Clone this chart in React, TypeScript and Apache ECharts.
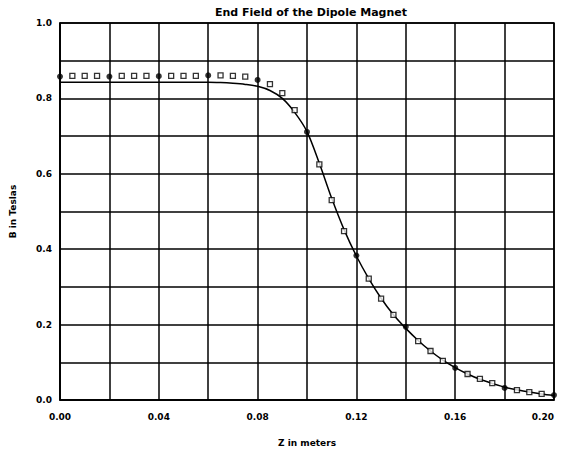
import React, { useEffect, useRef } from "react";
import * as echarts from "echarts";

const titleText = "End Field of the Dipole Magnet";
const xName = "Z in meters";
const yName = "B in Teslas";

// measured points at multiples of 0.02 (filled dots)
const zFilled = [0, 0.02, 0.04, 0.06, 0.08, 0.1, 0.12, 0.14, 0.16, 0.18, 0.2];
const bFilled = [0.858, 0.858, 0.859, 0.861, 0.849, 0.711, 0.383, 0.194, 0.085, 0.032, 0.013];

// measured points in between (open squares)
const zOpen = [
  0.005, 0.01, 0.015, 0.025, 0.03, 0.035, 0.045, 0.05, 0.055, 0.065, 0.07, 0.075,
  0.085, 0.09, 0.095, 0.105, 0.11, 0.115, 0.125, 0.13, 0.135, 0.145, 0.15, 0.155,
  0.165, 0.17, 0.175, 0.185, 0.19, 0.195,
];
const bOpen = [
  0.86, 0.86, 0.86, 0.86, 0.86, 0.86, 0.86, 0.86, 0.86, 0.861, 0.86, 0.858,
  0.838, 0.814, 0.769, 0.625, 0.53, 0.448, 0.322, 0.269, 0.226, 0.156, 0.13, 0.104,
  0.069, 0.056, 0.045, 0.026, 0.021, 0.016,
];

// calculated curve
const zCurve = [
  0, 0.01, 0.02, 0.03, 0.04, 0.05, 0.06, 0.065, 0.07, 0.075, 0.08, 0.085, 0.09, 0.095,
  0.1, 0.105, 0.11, 0.115, 0.12, 0.125, 0.13, 0.135, 0.14, 0.145, 0.15, 0.155, 0.16,
  0.165, 0.17, 0.175, 0.18, 0.185, 0.19, 0.195, 0.2,
];
const bCurve = [
  0.843, 0.843, 0.843, 0.843, 0.843, 0.843, 0.843, 0.842, 0.84, 0.837, 0.832, 0.821,
  0.8, 0.763, 0.712, 0.628, 0.535, 0.452, 0.382, 0.322, 0.27, 0.226, 0.19, 0.158, 0.13,
  0.106, 0.086, 0.069, 0.055, 0.044, 0.034, 0.027, 0.021, 0.016, 0.012,
];

const FONT = "DejaVu Sans";

export default function App() {
  const ref = useRef<HTMLDivElement>(null);
  useEffect(() => {
    if (!ref.current) return;
    const chart = echarts.init(ref.current, undefined, { renderer: "svg" });
    const lineStyle = { color: "#000", width: 1.5 };
    chart.setOption({
      animation: false,
      backgroundColor: "#fff",
      title: {
        text: titleText,
        left: 306,
        textAlign: "center",
        top: 2,
        textStyle: { fontFamily: FONT, fontSize: 11, fontWeight: "bold", color: "#000" },
      },
      grid: {
        left: 58,
        right: 8,
        top: 23,
        bottom: 52,
        show: true,
        borderColor: "#000",
        borderWidth: 1.5,
      },
      xAxis: {
        type: "value",
        min: 0,
        max: 0.2,
        interval: 0.02,
        name: xName,
        nameLocation: "middle",
        nameGap: 38,
        nameTextStyle: { fontFamily: FONT, fontSize: 9, fontWeight: "bold", color: "#000" },
        axisLine: { show: true, lineStyle },
        axisTick: { show: false },
        splitLine: { show: true, lineStyle },
        axisLabel: {
          margin: 12,
          fontFamily: FONT,
          fontSize: 9,
          fontWeight: "bold",
          color: "#000",
          alignMaxLabel: "right",
          formatter: (v: number) => (Math.round(v * 100) % 4 === 0 ? v.toFixed(2) : ""),
        },
      },
      yAxis: {
        type: "value",
        min: 0,
        max: 1,
        interval: 0.1,
        name: yName,
        nameLocation: "middle",
        nameGap: 43,
        nameTextStyle: { fontFamily: FONT, fontSize: 9, fontWeight: "bold", color: "#000" },
        axisLine: { show: true, lineStyle },
        axisTick: { show: false },
        splitLine: { show: true, lineStyle },
        axisLabel: {
          margin: 8,
          fontFamily: FONT,
          fontSize: 9,
          fontWeight: "bold",
          color: "#000",
          formatter: (v: number) => (Math.round(v * 10) % 2 === 0 ? v.toFixed(1) : ""),
        },
      },
      series: [
        {
          type: "line",
          data: zCurve.map((z, i) => [z, bCurve[i]]),
          smooth: 0.3,
          showSymbol: false,
          symbol: "none",
          lineStyle: { color: "#000", width: 1.5 },
          z: 2,
        },
        {
          type: "scatter",
          data: zOpen.map((z, i) => [z, bOpen[i]]),
          symbol: "rect",
          symbolSize: 5,
          itemStyle: { color: "#fff", borderColor: "#000", borderWidth: 1.3 },
          z: 3,
        },
        {
          type: "scatter",
          data: zFilled.map((z, i) => [z, bFilled[i]]),
          symbol: "circle",
          symbolSize: 6,
          itemStyle: { color: "#000" },
          z: 4,
        },
      ],
    });
    return () => chart.dispose();
  }, []);
  return (
    <div
      ref={ref}
      style={{ position: "fixed", left: 0, top: 0, width: 562, height: 452 }}
    />
  );
}
